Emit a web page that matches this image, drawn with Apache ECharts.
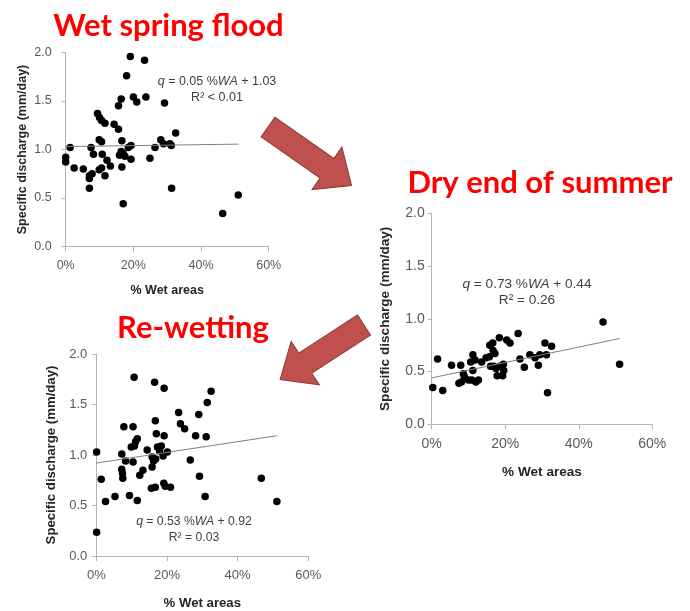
<!DOCTYPE html>
<html>
<head>
<meta charset="utf-8">
<script src="https://cdn.jsdelivr.net/npm/echarts@6/dist/echarts.min.js"></script>
<style>
  html, body { margin: 0; padding: 0; background: #fff; }
  #chart { width: 690px; height: 611px; }
</style>
</head>
<body>
<div id="chart"></div>
<script>
// % wet areas (fraction) and specific discharge (mm/day) per catchment
const springX = [0, 0, 0.013, 0.025, 0.052, 0.070, 0.070, 0.070, 0.075, 0.078, 0.082, 0.094, 0.100, 0.106, 0.116, 0.099, 0.106, 0.099, 0.106, 0.108, 0.116, 0.122, 0.132, 0.143, 0.156, 0.156, 0.164, 0.166, 0.159, 0.164, 0.166, 0.170, 0.170, 0.175, 0.180, 0.191, 0.185, 0.193, 0.193, 0.200, 0.210, 0.233, 0.237, 0.249, 0.264, 0.281, 0.289, 0.292, 0.308, 0.312, 0.313, 0.325, 0.464, 0.510]
const springY = [0.92, 0.87, 1.02, 0.81, 0.80, 0.73, 0.70, 0.60, 1.02, 0.75, 0.95, 1.37, 1.33, 1.30, 1.27, 1.10, 1.08, 0.79, 0.81, 0.95, 0.73, 0.89, 0.83, 1.26, 1.21, 1.45, 1.52, 1.09, 0.94, 0.98, 0.82, 0.44, 0.96, 0.93, 1.76, 1.96, 1.02, 1.04, 0.90, 1.54, 1.49, 1.92, 1.54, 0.91, 1.02, 1.10, 1.06, 1.48, 1.06, 1.04, 0.60, 1.17, 0.34, 0.53]

const dryX = [0.003, 0.016, 0.030, 0.054, 0.074, 0.079, 0.081, 0.086, 0.089, 0.100, 0.106, 0.109, 0.112, 0.112, 0.118, 0.120, 0.127, 0.136, 0.148, 0.157, 0.158, 0.160, 0.166, 0.167, 0.169, 0.172, 0.175, 0.178, 0.184, 0.186, 0.193, 0.195, 0.196, 0.204, 0.213, 0.235, 0.240, 0.252, 0.267, 0.281, 0.290, 0.294, 0.308, 0.312, 0.315, 0.326, 0.466, 0.511]
const dryY = [0.35, 0.62, 0.32, 0.56, 0.39, 0.56, 0.40, 0.48, 0.45, 0.42, 0.59, 0.42, 0.66, 0.51, 0.61, 0.40, 0.42, 0.59, 0.63, 0.64, 0.75, 0.55, 0.77, 0.70, 0.55, 0.67, 0.53, 0.46, 0.82, 0.55, 0.46, 0.57, 0.51, 0.80, 0.77, 0.86, 0.62, 0.54, 0.66, 0.63, 0.56, 0.66, 0.77, 0.66, 0.30, 0.74, 0.97, 0.57]

const rewetX = [0.001, 0.001, 0.014, 0.026, 0.053, 0.072, 0.072, 0.074, 0.075, 0.078, 0.083, 0.094, 0.099, 0.104, 0.104, 0.107, 0.108, 0.111, 0.116, 0.116, 0.123, 0.132, 0.144, 0.156, 0.158, 0.158, 0.162, 0.165, 0.167, 0.167, 0.168, 0.170, 0.173, 0.179, 0.184, 0.189, 0.191, 0.192, 0.192, 0.195, 0.201, 0.210, 0.233, 0.238, 0.250, 0.266, 0.281, 0.290, 0.292, 0.308, 0.311, 0.314, 0.325, 0.467, 0.511]
const rewetY = [1.03, 0.235, 0.76, 0.54, 0.59, 1.01, 0.86, 0.82, 0.77, 1.28, 0.94, 0.60, 1.08, 1.28, 0.93, 1.77, 1.09, 1.13, 1.16, 0.55, 0.80, 0.85, 1.05, 0.67, 0.98, 0.88, 0.94, 1.72, 0.68, 1.34, 0.96, 1.21, 1.08, 1.04, 1.09, 0.99, 0.72, 1.66, 1.19, 0.69, 1.03, 0.68, 1.42, 1.31, 1.26, 0.95, 1.19, 1.40, 0.79, 0.59, 1.18, 1.52, 1.63, 0.77, 0.54]

// panels in drawing order: spring, dry, re-wetting
const panelTitles = ['Wet spring flood', 'Dry end of summer', 'Re-wetting']
const slopes = [0.05, 0.73, 0.53]
const intercepts = [1.03, 0.44, 0.92]
const r2Labels = ['R² < 0.01', 'R² = 0.26', 'R² = 0.03']
const xTicks = [0, 0.2, 0.4, 0.6]
const yTicks = [0, 0.5, 1.0, 1.5, 2.0]
const xName = '% Wet areas'
const yName = 'Specific discharge (mm/day)'

const xs = [springX, dryX, rewetX]
const ys = [springY, dryY, rewetY]

// layout per panel (px)
const layout = [
  { grid: { left: 65.7, top: 52.5, width: 203, height: 194 }, font: 12.5, nameFont: 12.5, eqFont: 12.5,
    yLabelMargin: 14, yNameGap: 37, xNameGap: 38, title: [168.5, 26], eq: [217, 90] },
  { grid: { left: 431.7, top: 213.3, width: 220.6, height: 211 }, font: 14, nameFont: 13.6, eqFont: 13.6,
    yLabelMargin: 7, yNameGap: 39, xNameGap: 41, title: [540, 183], eq: [527, 292] },
  { grid: { left: 96.3, top: 354, width: 212, height: 204.3 }, font: 13, nameFont: 13.2, eqFont: 12.2,
    yLabelMargin: 9, yNameGap: 38, xNameGap: 41, title: [193, 328], eq: [194, 529.5] },
]

const axisGray = '#B4B4B4'
const labelGray = '#595959'

const chart = echarts.init(document.getElementById('chart'))

const grids = layout.map(l => l.grid)

const xAxes = layout.map((l, i) => ({
  type: 'value',
  gridIndex: i,
  min: xTicks[0],
  max: xTicks[xTicks.length - 1],
  interval: xTicks[1] - xTicks[0],
  name: xName,
  nameLocation: 'middle',
  nameGap: l.xNameGap,
  nameTextStyle: { fontFamily: 'Liberation Sans', fontWeight: 'bold', fontSize: l.nameFont, color: '#262626' },
  axisLine: { show: true, lineStyle: { color: axisGray, width: 1 } },
  axisTick: { show: true, length: 5, lineStyle: { color: axisGray } },
  axisLabel: {
    margin: 13,
    fontFamily: 'Liberation Sans',
    fontSize: l.font,
    color: labelGray,
    formatter: v => Math.round(v * 100) + '%',
  },
  splitLine: { show: false },
}))

const yAxes = layout.map((l, i) => ({
  type: 'value',
  gridIndex: i,
  min: yTicks[0],
  max: yTicks[yTicks.length - 1],
  interval: yTicks[1] - yTicks[0],
  name: yName,
  nameLocation: 'middle',
  nameGap: l.yNameGap,
  nameTextStyle: { fontFamily: 'Liberation Sans', fontWeight: 'bold', fontSize: l.nameFont, color: '#262626' },
  axisLine: { show: true, lineStyle: { color: axisGray, width: 1 } },
  axisTick: { show: true, length: 4, lineStyle: { color: axisGray } },
  axisLabel: {
    margin: l.yLabelMargin,
    fontFamily: 'Liberation Sans',
    fontSize: l.font,
    color: labelGray,
    formatter: v => v.toFixed(1),
  },
  splitLine: { show: false },
}))

const series = []
xs.forEach((xArr, i) => {
  series.push({
    type: 'scatter',
    xAxisIndex: i,
    yAxisIndex: i,
    symbolSize: 7.5,
    itemStyle: { color: '#000', opacity: 1 },
    data: xArr.map((x, k) => [x, ys[i][k]]),
  })
  // fitted line over the observed range
  const xMax = Math.max(...xArr)
  series.push({
    type: 'line',
    xAxisIndex: i,
    yAxisIndex: i,
    symbol: 'none',
    lineStyle: { color: '#808080', width: 1 },
    data: [[0, intercepts[i]], [xMax, slopes[i] * xMax + intercepts[i]]],
  })
})

// big red panel titles and the equation boxes
const graphic = []
layout.forEach((l, i) => {
  graphic.push({
    type: 'text',
    x: l.title[0],
    y: l.title[1],
    style: {
      text: panelTitles[i],
      fill: '#FF0000',
      font: 'bold 31px Lato',
      align: 'center',
      verticalAlign: 'middle',
    },
  })
  graphic.push({
    type: 'text',
    x: l.eq[0],
    y: l.eq[1],
    style: {
      text: '{i|q} = ' + slopes[i].toFixed(2) + ' %{i|WA} + ' + intercepts[i].toFixed(2) + '\n' + r2Labels[i],
      fill: '#404040',
      fontFamily: 'Liberation Sans',
      fontSize: l.eqFont,
      lineHeight: 16,
      align: 'center',
      verticalAlign: 'middle',
      rich: {
        i: { fontStyle: 'italic', fontFamily: 'Liberation Sans', fontSize: l.eqFont, fill: '#404040' },
      },
    },
  })
})

// block arrows between panels
const arrowShape = len => [[0, -12], [len - 30, -12], [len - 30, -26], [len, 0], [len - 30, 26], [len - 30, 12], [0, 12]]
const arrows = [
  { pos: [268, 127], angle: -35, len: 102 },
  { pos: [364, 325], angle: -147, len: 100 },
]
arrows.forEach(a => {
  graphic.push({
    type: 'polygon',
    x: a.pos[0],
    y: a.pos[1],
    rotation: a.angle * Math.PI / 180,
    shape: { points: arrowShape(a.len) },
    style: { fill: '#C0504D', stroke: '#8C3836', lineWidth: 1 },
  })
})

chart.setOption({
  animation: false,
  backgroundColor: '#fff',
  grid: grids,
  xAxis: xAxes,
  yAxis: yAxes,
  series,
  graphic,
})
</script>
</body>
</html>
